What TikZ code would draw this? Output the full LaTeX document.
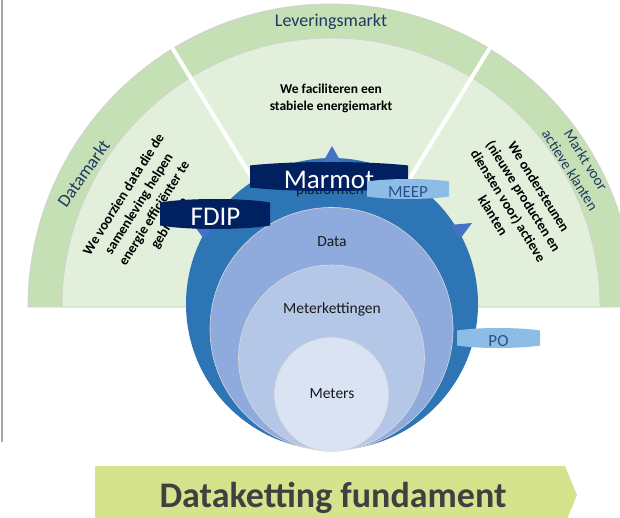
\documentclass[tikz,border=0pt]{standalone}
\usepackage{fontspec}
\setmainfont{Carlito}
\definecolor{bandgreen}{HTML}{C5E0B4}
\definecolor{lightgreen}{HTML}{E2EFDA}
\definecolor{navybox}{HTML}{002060}
\definecolor{ringblue}{HTML}{2E75B6}
\definecolor{datablue}{HTML}{8FAADC}
\definecolor{chainblue}{HTML}{B4C7E7}
\definecolor{meterblue}{HTML}{DAE3F3}
\definecolor{triblue}{HTML}{4472C4}
\definecolor{boxlight}{HTML}{8DBDE6}
\definecolor{boxtext}{HTML}{2B4F8C}
\definecolor{labelblue}{HTML}{203864}
\definecolor{bannergreen}{HTML}{D5E48C}
\definecolor{bannertext}{HTML}{404040}
\newcommand{\barrelshape}[6]{%
  \fill[#6] (#1,{#2-#5}) .. controls ({#1+(#3-#1)/4},{#2+#5/3}) and ({#3-(#3-#1)/4},{#2+#5/3}) .. (#3,{#2-#5})
    -- (#3,{#4+#5}) .. controls ({#3-(#3-#1)/4},{#4-#5/3}) and ({#1+(#3-#1)/4},{#4-#5/3}) .. (#1,{#4+#5}) -- cycle;}
\tikzset{
  marketlbl/.style={font=\fontsize{18}{20}\selectfont, text=labelblue, inner sep=0},
  boldtxt/.style={font=\bfseries\fontsize{14}{18}\selectfont, align=center, inner sep=0, text=black},
  ringtxt/.style={font=\fontsize{15.5}{18}\selectfont, inner sep=0, text=black!90},
  ringline/.style={draw=black!15, line width=0.6},
  bigbox/.style={font=\fontsize{27}{30}\selectfont, text=white, inner sep=0},
  smallbox/.style={font=\fontsize{17}{20}\selectfont, text=boxtext, inner sep=0},
  divider/.style={white, line width=4},
}
\begin{document}
\begin{tikzpicture}[x=1pt,y=1pt]
\useasboundingbox (0,0) rectangle (620,517);
\clip (0,0) rectangle (620,517);
\fill[white] (0,0) rectangle (620,517);
% left gray edge
\draw[black!35, line width=2] (2,517) -- (2,75);
% half rings
\filldraw[fill=bandgreen, draw=black!18, line width=0.8] (28,210) arc[start angle=180, end angle=0, radius=303] -- cycle;
\filldraw[fill=lightgreen, draw=black!18, line width=0.8] (62,210) arc[start angle=180, end angle=0, radius=269] -- cycle;
\begin{scope}[shift={(331,210)}]
  \draw[divider] (121.5:140) -- (121.5:315);
  \draw[divider] (58.5:140) -- (58.5:315);
\end{scope}
% market labels
\node[marketlbl, anchor=base] (lev) at (331,490) {Leveringsmarkt};
\node[marketlbl, rotate=55] (dm) at (83.5,343.5) {Datamarkt};
\node[marketlbl, font=\fontsize{15}{18.5}\selectfont, align=center, rotate=-58] (mva) at (578,352) {Markt voor\\actieve klanten};
% sector texts
\node[boldtxt, font=\bfseries\fontsize{13.5}{17}\selectfont] (lev2) at (331,419) {We faciliteren een\\stabiele energiemarkt};
\node[boldtxt, rotate=58] (dm2) at (147,308) {We voorzien data die de\\samenleving helpen\\energie efficiënter te\\gebruiken};
\node[boldtxt, rotate=-58] (mva2) at (516,316) {We ondersteunen\\(nieuwe producten en\\diensten voor) actieve\\klanten};
% circles
\fill[ringblue] (332,213) circle[radius=146];
\filldraw[fill=datablue, ringline] (331.5,188) circle[radius=121.5];
\filldraw[fill=chainblue, ringline] (331.5,159) circle[radius=93];
\filldraw[fill=meterblue, ringline] (331.5,122.5) circle[radius=57];
\node[ringtxt] (data) at (332,275) {Data};
\node[ringtxt] (chain) at (332,208) {Meterkettingen};
\node[ringtxt] (meters) at (332,123) {Meters};
\node[ringtxt, font=\fontsize{15}{18}\selectfont, anchor=base] (plat) at (330,322) {platformen};
% triangles
\fill[triblue] (332,371) -- (322,353) -- (342,353) -- cycle;
\fill[triblue] (450,292) -- (472,294) -- (460,278) -- cycle;
\fill[triblue] (214,292) -- (192,294) -- (204,278) -- cycle;
% boxes
\barrelshape{250}{355}{408}{326}{3.5}{navybox}
\node[bigbox] (marmot) at (329,337) {Marmot};
\barrelshape{367}{338}{449}{318}{2.5}{boxlight}
\node[smallbox] (meep) at (408,325) {MEEP};
\barrelshape{160}{318}{270}{288}{3.5}{navybox}
\node[bigbox] (fdip) at (215.5,300) {FDIP};
\barrelshape{457}{189}{540}{169}{2.5}{boxlight}
\node[smallbox] (po) at (498.5,176) {PO};
% banner
\fill[bannergreen] (95,51) -- (565,51) -- (577,22) -- (565,-7) -- (95,-7) -- cycle;
\node[font=\bfseries\fontsize{36}{40}\selectfont, text=bannertext, anchor=base, inner sep=0] (banner) at (333,9.5) {Dataketting fundament};
\end{tikzpicture}
\end{document}
